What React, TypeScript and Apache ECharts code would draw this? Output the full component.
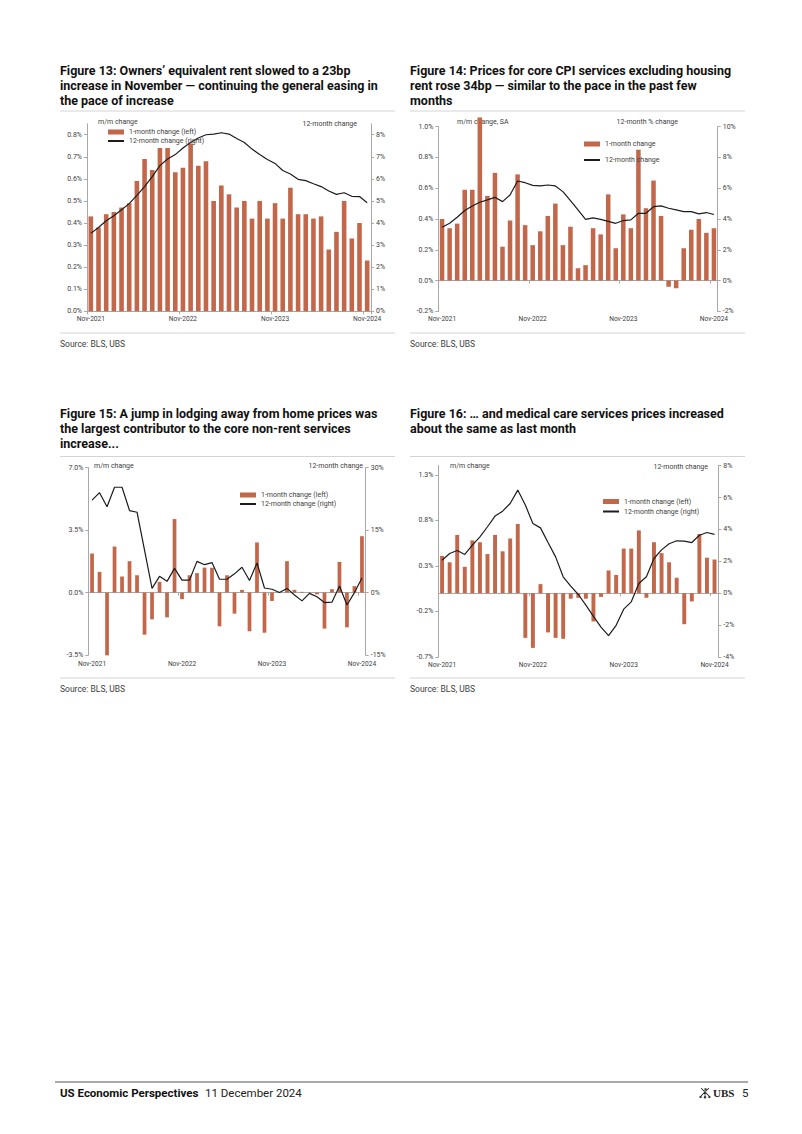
import React, { useEffect, useRef } from "react";
import * as echarts from "echarts";

// ---------- data ----------
const months = [
  "Nov-2021", "Dec-2021", "Jan-2022", "Feb-2022", "Mar-2022", "Apr-2022", "May-2022", "Jun-2022", "Jul-2022",
  "Aug-2022", "Sep-2022", "Oct-2022", "Nov-2022", "Dec-2022", "Jan-2023", "Feb-2023", "Mar-2023", "Apr-2023",
  "May-2023", "Jun-2023", "Jul-2023", "Aug-2023", "Sep-2023", "Oct-2023", "Nov-2023", "Dec-2023", "Jan-2024",
  "Feb-2024", "Mar-2024", "Apr-2024", "May-2024", "Jun-2024", "Jul-2024", "Aug-2024", "Sep-2024", "Oct-2024",
  "Nov-2024",
];

// Figure 13: owners' equivalent rent
const oerMoM = [
  0.43, 0.38, 0.44, 0.45, 0.47, 0.49, 0.59, 0.69, 0.64, 0.74,
  0.74, 0.63, 0.65, 0.76, 0.66, 0.68, 0.50, 0.57, 0.53, 0.47,
  0.50, 0.42, 0.50, 0.42, 0.49, 0.42, 0.56, 0.44, 0.44, 0.42,
  0.43, 0.28, 0.36, 0.50, 0.33, 0.40, 0.23,
];
const oerYoY = [
  3.53, 3.8, 4.1, 4.33, 4.6, 4.88, 5.25, 5.65, 6.1, 6.6,
  6.9, 7.1, 7.4, 7.65, 7.85, 8.0, 8.03, 8.09, 8.03, 7.83,
  7.65, 7.35, 7.1, 6.88, 6.7, 6.38, 6.22, 5.98, 5.92, 5.78,
  5.65, 5.45, 5.3, 5.37, 5.21, 5.2, 4.92,
];

// Figure 14: core services ex housing
const supercoreMoM = [
  0.40, 0.34, 0.37, 0.59, 0.59, 1.06, 0.55, 0.70, 0.22, 0.39,
  0.69, 0.36, 0.23, 0.32, 0.42, 0.50, 0.23, 0.35, 0.08, 0.10,
  0.34, 0.30, 0.56, 0.21, 0.43, 0.34, 0.85, 0.47, 0.65, 0.42,
  -0.04, -0.05, 0.21, 0.33, 0.40, 0.31, 0.34,
];
const supercoreYoY = [
  3.46, 3.72, 4.11, 4.55, 4.85, 5.09, 5.24, 5.41, 5.13, 5.56,
  6.47, 6.36, 6.19, 6.15, 6.21, 6.15, 5.78, 5.19, 4.59, 3.98,
  4.07, 3.98, 3.85, 3.72, 3.9, 3.94, 4.37, 4.37, 4.8, 4.85,
  4.7, 4.59, 4.48, 4.48, 4.33, 4.42, 4.29,
];

// Figure 15: lodging away from home
const lodgingMoM = [
  2.19, 1.16, -3.52, 2.58, 0.90, 1.76, 0.97, -2.36, -1.5, 0.6,
  -1.39, 4.12, -0.37, 0.97, 1.09, 1.4, 1.39, -1.89, 0.97, -1.18,
  0.15, -2.17, 2.81, -2.25, -0.47, 0.02, 1.76, 0.15, 0.04, 0.02,
  -0.1, -2.02, 0.19, 1.72, -1.95, 0.36, 3.16,
];
const lodgingYoY = [
  22.2, 24.0, 20.6, 25.3, 25.3, 19.7, 19.3, 10.2, 1.0, 3.9,
  2.7, 5.8, 3.0, 3.0, 7.5, 6.7, 7.2, 3.2, 3.2, 4.5,
  6.1, 2.9, 7.1, 1.1, 0.8, 0.0, 1.0, -0.6, -2.0, -0.2,
  -1.0, -2.4, -2.3, 1.6, -3.0, 0.0, 3.5,
];

// Figure 16: medical care services
const medicalMoM = [
  0.41, 0.34, 0.64, 0.29, 0.58, 0.56, 0.43, 0.64, 0.46, 0.60,
  0.76, -0.49, -0.60, 0.10, -0.43, -0.49, -0.50, -0.06, -0.05, -0.06,
  -0.31, -0.04, 0.25, 0.20, 0.49, 0.49, 0.69, -0.05, 0.56, 0.44,
  0.34, 0.17, -0.34, -0.09, 0.65, 0.39, 0.37,
];
const medicalYoY = [
  2.07, 2.49, 2.68, 2.43, 3.02, 3.54, 4.17, 4.84, 5.15, 5.63,
  6.47, 5.53, 4.38, 4.1, 3.18, 2.28, 1.03, 0.44, -0.08, -0.75,
  -1.45, -2.12, -2.66, -2.01, -1.0, -0.54, 0.61, 1.03, 2.18, 2.72,
  3.1, 3.29, 3.27, 3.18, 3.64, 3.81, 3.69,
];

// tick labels
const ticks13Left = [0, 0.1, 0.2, 0.3, 0.4, 0.5, 0.6, 0.7, 0.8];
const ticks13Right = [0, 1, 2, 3, 4, 5, 6, 7, 8];
const ticks14Left = [-0.2, 0, 0.2, 0.4, 0.6, 0.8, 1.0];
const ticks14Right = [-2, 0, 2, 4, 6, 8, 10];
const ticks15Left = [-3.5, 0, 3.5, 7];
const ticks15Right = [-15, 0, 15, 30];
const ticks16Left = [-0.7, -0.2, 0.3, 0.8, 1.3];
const ticks16Right = [-4, -2, 0, 2, 4, 6, 8];

// texts
const title13 = [
  "Figure 13: Owners’ equivalent rent slowed to a 23bp",
  "increase in November — continuing the general easing in",
  "the pace of increase",
];
const title14 = [
  "Figure 14: Prices for core CPI services excluding housing",
  "rent rose 34bp — similar to the pace in the past few",
  "months",
];
const title15 = [
  "Figure 15: A jump in lodging away from home prices was",
  "the largest contributor to the core non-rent services",
  "increase...",
];
const title16 = [
  "Figure 16: … and medical care services prices increased",
  "about the same as last month",
];

// ---------- styles ----------
const BAR = "#C3674B";
const LINE = "#1c1c1c";
const AXIS = "#a8a8a8";
const TXT = "#404040";
const SEP = "#d4d4d4";
const FONT = "Roboto, 'Noto Sans', sans-serif";

const UBS_PATH =
  "M5.6,1 L6.4,1 L6.4,9 L5.6,9 Z M4.7,10.2 a1.3,1.3 0 1,0 2.6,0 a1.3,1.3 0 1,0 -2.6,0 Z M6.4,1.5 L7.6,1.5 L7.6,3 L6.4,3 Z " +
  "M1.8,8.6 L2.4,9.2 L10.2,1.4 L9.6,0.8 Z M0.4,9.9 a1.2,1.2 0 1,0 2.4,0 a1.2,1.2 0 1,0 -2.4,0 Z " +
  "M10.2,8.6 L9.6,9.2 L1.8,1.4 L2.4,0.8 Z M9.2,9.9 a1.2,1.2 0 1,0 2.4,0 a1.2,1.2 0 1,0 -2.4,0 Z";

type AxisCfg = { min: number; max: number; ticks: number[]; dec: number };

const panels = [
  {
    grid: { left: 87, top: 123.7, width: 284, height: 187.6 },
    bars: oerMoM, line: oerYoY,
    barName: "1-month change (left)", lineName: "12-month change (right)",
    left: { min: 0, max: 0.85, ticks: ticks13Left, dec: 1 },
    right: { min: 0, max: 8.5, ticks: ticks13Right, dec: 0 },
    legend: { left: 107, top: 128.5, gap: 2 },
    barWidth: "60%",
    xMargin: 4,
  },
  {
    grid: { left: 438.3, top: 126.7, width: 279.4, height: 184.6 },
    bars: supercoreMoM, line: supercoreYoY,
    barName: "1-month change", lineName: "12-month change",
    left: { min: -0.2, max: 1.0, ticks: ticks14Left, dec: 1 },
    right: { min: -2, max: 10, ticks: ticks14Right, dec: 0 },
    legend: { left: 583, top: 140.5, gap: 9 },
    barWidth: "60%",
    xMargin: 4,
  },
  {
    grid: { left: 88.3, top: 467.7, width: 277.4, height: 187.3 },
    bars: lodgingMoM, line: lodgingYoY,
    barName: "1-month change (left)", lineName: "12-month change (right)",
    left: { min: -3.5, max: 7, ticks: ticks15Left, dec: 1 },
    right: { min: -15, max: 30, ticks: ticks15Right, dec: 0 },
    legend: { left: 239, top: 491.5, gap: 2 },
    barWidth: "50%",
    xMargin: 5,
  },
  {
    grid: { left: 438.3, top: 465.7, width: 280, height: 191.3 },
    bars: medicalMoM, line: medicalYoY,
    barName: "1-month change (left)", lineName: "12-month change (right)",
    left: { min: -0.7, max: 1.4, ticks: ticks16Left, dec: 1 },
    right: { min: -4, max: 8, ticks: ticks16Right, dec: 0 },
    legend: { left: 602, top: 498, gap: 3 },
    barWidth: "52%",
    xMargin: 4,
  },
];

function valueAxis(i: number, pos: "left" | "right", a: AxisCfg) {
  return {
    type: "value",
    gridIndex: i,
    position: pos,
    min: a.min,
    max: a.max,
    splitLine: { show: false },
    axisLine: { show: true, onZero: false, lineStyle: { color: AXIS, width: 1 } },
    axisTick: { show: true, length: 3, lineStyle: { color: AXIS }, customValues: a.ticks },
    axisLabel: {
      show: true,
      fontSize: 7,
      color: TXT,
      fontFamily: FONT,
      margin: 5,
      customValues: a.ticks,
      formatter: (v: number) => v.toFixed(a.dec) + "%",
    },
  };
}

function txt(x: number, y: number, text: string, o: any = {}) {
  return {
    type: "text",
    x,
    y,
    silent: true,
    style: {
      text,
      fill: o.fill || TXT,
      fontSize: o.size || 7,
      fontWeight: o.weight || "normal",
      fontFamily: o.family || FONT,
      textAlign: o.align || "left",
      textVerticalAlign: "middle",
    },
  };
}

function hline(x1: number, x2: number, y: number, color: string, w = 1) {
  return { type: "line", silent: true, shape: { x1, y1: y, x2, y2: y }, style: { stroke: color, lineWidth: w } };
}

function buildOption() {
  const grid: any[] = [];
  const xAxis: any[] = [];
  const yAxis: any[] = [];
  const series: any[] = [];
  const legend: any[] = [];

  panels.forEach((p, i) => {
    grid.push({ ...p.grid, containLabel: false });
    xAxis.push({
      type: "category",
      gridIndex: i,
      data: months,
      position: "bottom",
      boundaryGap: true,
      axisLine: { show: true, onZero: true, lineStyle: { color: AXIS, width: 1 } },
      axisTick: { show: true, interval: 11, length: 3, lineStyle: { color: AXIS } },
      axisLabel: { show: false },
      splitLine: { show: false },
    });
    xAxis.push({
      type: "category",
      gridIndex: i,
      data: months,
      position: "bottom",
      boundaryGap: true,
      axisLine: { show: false, onZero: false },
      axisTick: { show: false },
      axisLabel: { show: true, interval: 11, fontSize: 6.6, color: TXT, fontFamily: FONT, margin: p.xMargin },
      splitLine: { show: false },
    });
    yAxis.push(valueAxis(i, "left", p.left));
    yAxis.push(valueAxis(i, "right", p.right));
    series.push({
      type: "bar",
      name: p.barName,
      xAxisIndex: 2 * i,
      yAxisIndex: 2 * i,
      data: p.bars,
      barWidth: p.barWidth,
      itemStyle: { color: BAR },
      clip: false,
      z: 2,
    });
    series.push({
      type: "line",
      name: p.lineName,
      xAxisIndex: 2 * i,
      yAxisIndex: 2 * i + 1,
      data: p.line,
      symbol: "none",
      lineStyle: { color: LINE, width: 1.2 },
      itemStyle: { color: LINE },
      z: 3,
    });
    legend.push({
      left: p.legend.left,
      top: p.legend.top,
      orient: "vertical",
      itemGap: p.legend.gap,
      itemWidth: 16,
      itemHeight: 5,
      padding: 0,
      selectedMode: false,
      textStyle: { fontSize: 7, color: TXT, fontFamily: FONT },
      data: [
        { name: p.barName, icon: "rect" },
        { name: p.lineName, itemStyle: { opacity: 0, color: "rgba(0,0,0,0)", borderWidth: 0 } },
      ],
    });
  });

  const g: any[] = [];
  const T = { size: 12.5, weight: "bold", fill: "#111" };
  title13.forEach((t, k) => g.push(txt(60, 70 + 15 * k, t, T)));
  title14.forEach((t, k) => g.push(txt(410, 70 + 15 * k, t, T)));
  title15.forEach((t, k) => g.push(txt(60, 413 + 15 * k, t, T)));
  title16.forEach((t, k) => g.push(txt(410, 413 + 15 * k, t, T)));
  // separators
  [111, 333, 456.5, 678].forEach((y) => { g.push(hline(60, 395, y, SEP)); g.push(hline(410, 745, y, SEP)); });
  // axis names
  g.push(txt(98, 122, "m/m change"));
  g.push(txt(357, 124, "12-month change", { align: "right" }));
  g.push(txt(457, 122, "m/m change, SA"));
  g.push(txt(678, 122, "12-month % change", { align: "right" }));
  g.push(txt(94, 466, "m/m change"));
  g.push(txt(363, 466, "12-month change", { align: "right" }));
  g.push(txt(450, 466, "m/m change"));
  g.push(txt(708, 467, "12-month change", { align: "right" }));
  // sources
  g.push(txt(60, 344, "Source: BLS, UBS", { size: 8.5 }));
  g.push(txt(410, 344, "Source: BLS, UBS", { size: 8.5 }));
  g.push(txt(60, 689, "Source: BLS, UBS", { size: 8.5 }));
  g.push(txt(410, 689, "Source: BLS, UBS", { size: 8.5 }));
  // footer
  g.push(hline(55, 748, 1082, "#555", 1.2));
  g.push(txt(60, 1093, "US Economic Perspectives", { size: 11.5, weight: "bold", fill: "#111" }));
  g.push(txt(205, 1093, "11 December 2024", { size: 11.5, fill: "#222" }));
  g.push({ type: "ubsKeys", x: 699, y: 1087, scaleX: 1, scaleY: 1, silent: true, style: { fill: "#333" } });
  g.push(txt(713, 1093, "UBS", { size: 11, weight: "bold", family: "'Liberation Serif', 'DejaVu Serif', serif", fill: "#222" }));
  g.push(txt(742, 1093, "5", { size: 11.5, fill: "#222" }));

  return {
    animation: false,
    backgroundColor: "#ffffff",
    textStyle: { fontFamily: FONT },
    grid,
    xAxis,
    yAxis,
    series,
    legend,
    graphic: { elements: g },
  };
}

let registered = false;

export default function App() {
  const ref = useRef<HTMLDivElement>(null);
  useEffect(() => {
    if (!ref.current) return;
    if (!registered) {
      echarts.graphic.registerShape("ubsKeys", echarts.graphic.extendPath(UBS_PATH, {}) as any);
      registered = true;
    }
    const chart = echarts.init(ref.current, undefined, { renderer: "svg" });
    chart.setOption(buildOption() as any);
    return () => chart.dispose();
  }, []);
  return (
    <div
      ref={ref}
      style={{ position: "absolute", left: 0, top: 0, width: 802, height: 1134, background: "#fff" }}
    />
  );
}
